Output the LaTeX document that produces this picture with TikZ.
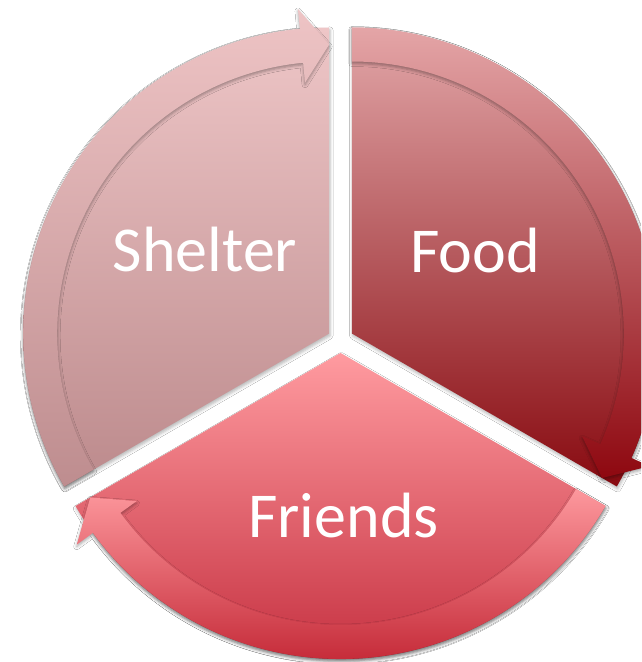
\documentclass[tikz,border=0pt]{standalone}
\usepackage{fontspec}
\setmainfont{Carlito}
\usetikzlibrary{shadows.blur}
\definecolor{shTop}{HTML}{EEC6C7}
\definecolor{shBot}{HTML}{BC8A8C}
\definecolor{shBandTop}{HTML}{EEC4C5}
\definecolor{shBandBot}{HTML}{BE8D8F}
\definecolor{fdTop}{HTML}{E2A7A9}
\definecolor{fdBot}{HTML}{880A10}
\definecolor{fdBandTop}{HTML}{E4A5A7}
\definecolor{fdBandBot}{HTML}{8E0810}
\definecolor{frTop}{HTML}{FF9BA0}
\definecolor{frBot}{HTML}{BE2334}
\definecolor{frBandTop}{HTML}{FD989D}
\definecolor{frBandBot}{HTML}{C62C3A}
\tikzset{
  softshadow/.style={blur shadow={shadow xshift=0.8pt, shadow yshift=-2.5pt, shadow blur radius=3pt, shadow opacity=28}},
  bandshadow/.style={blur shadow={shadow xshift=0pt, shadow yshift=-2pt, shadow blur radius=3pt, shadow opacity=35}},
  label/.style={text=white, font=\fontsize{64}{64}\selectfont, anchor=base, inner sep=0pt}
}
\begin{document}
\begin{tikzpicture}[x=1pt,y=1pt]
\useasboundingbox (0,0) rectangle (641,662);
\fill[white] (0,0) rectangle (641,662);
\clip (0,0) rectangle (641,662);
\def\R{306}\def\r{272}\def\m{289}\def\ao{326}\def\ai{252}
% Shelter
\begin{scope}[shift={(329.2,328.5)}]
  \shade[top color=shTop, bottom color=shBot, softshadow] (0,0) -- (90:\R) arc[start angle=90, end angle=210, radius=\R] -- cycle;
  \shade[top color=shBandTop, bottom color=shBandBot, bandshadow] (210:\R) arc[start angle=210, end angle=95.5, radius=\R] -- (95.5:\ao) -- (90:\m) -- (95.5:\ai) -- (95.5:\r) arc[start angle=95.5, end angle=210, radius=\r] -- cycle;
\end{scope}
% Food
\begin{scope}[shift={(351.8,328.5)}]
  \shade[top color=fdTop, bottom color=fdBot, softshadow] (0,0) -- (-30:\R) arc[start angle=-30, end angle=90, radius=\R] -- cycle;
  \shade[top color=fdBandTop, bottom color=fdBandBot, bandshadow] (90:\R) arc[start angle=90, end angle=-24, radius=\R] -- (-24:\ao) -- (-30:\m) -- (-24:\ai) -- (-24:\r) arc[start angle=-24, end angle=90, radius=\r] -- cycle;
\end{scope}
% Friends
\begin{scope}[shift={(340.5,309)}]
  \shade[top color=frTop, bottom color=frBot, softshadow] (0,0) -- (210:\R) arc[start angle=210, end angle=330, radius=\R] -- cycle;
  \shade[top color=frBandTop, bottom color=frBandBot, bandshadow] (330:\R) arc[start angle=330, end angle=216, radius=\R] -- (216:\ao) -- (210:\m) -- (216:\ai) -- (216:\r) arc[start angle=216, end angle=330, radius=\r] -- cycle;
\end{scope}
\node[label] (shelter) at (205,390) {Shelter};
\node[label] (food) at (475,389) {Food};
\node[label] (friends) at (343.5,124) {Friends};
\end{tikzpicture}
\end{document}
